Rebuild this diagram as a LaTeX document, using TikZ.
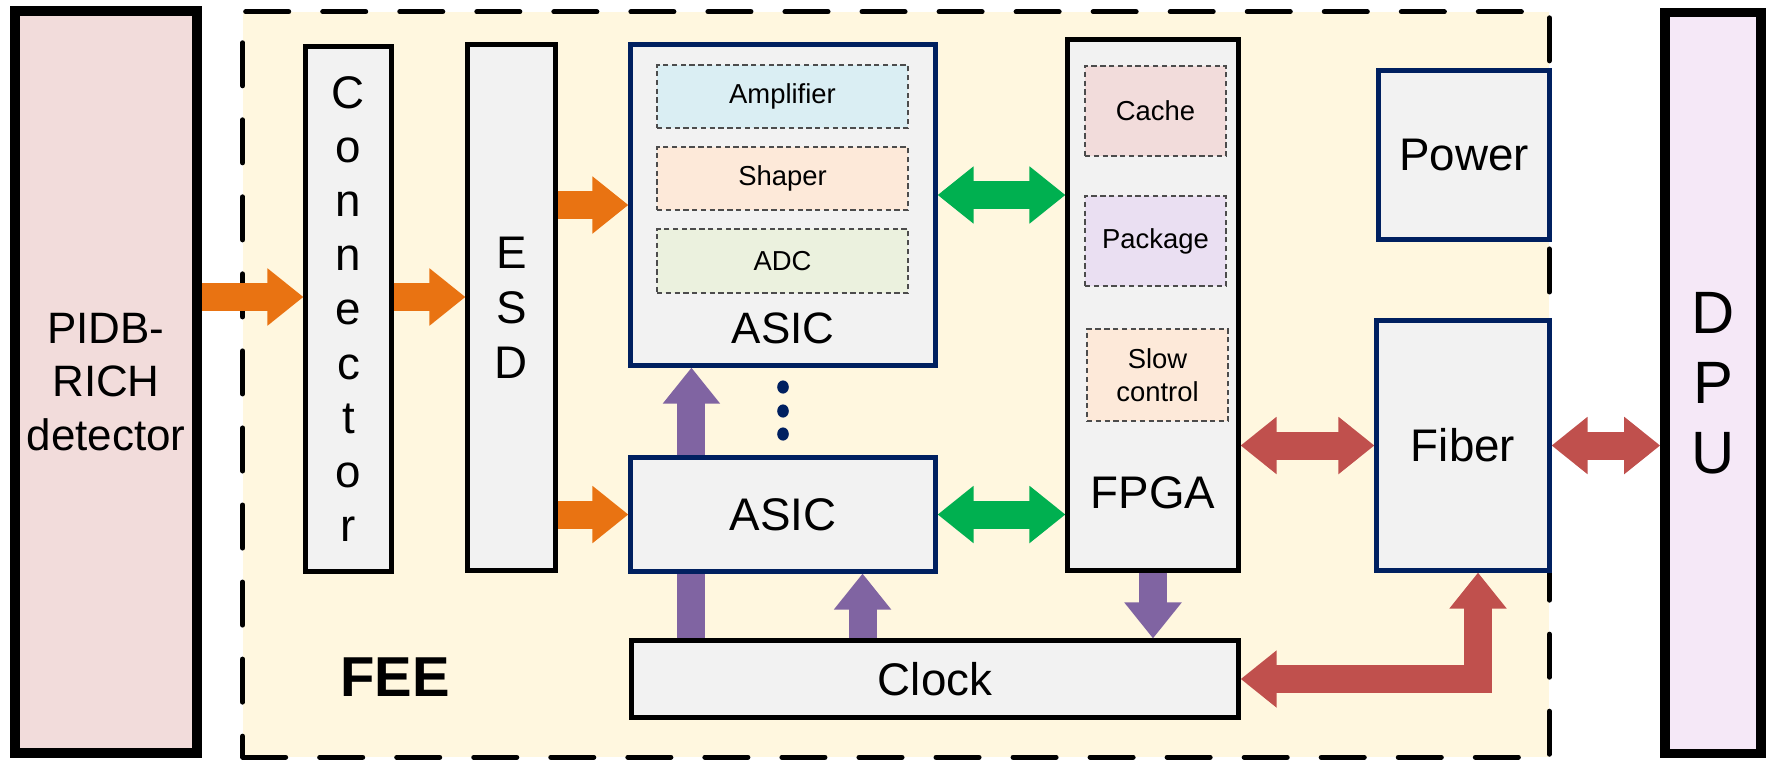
\documentclass[tikz,border=0pt]{standalone}
\usepackage{fontspec}
\setmainfont{Liberation Sans}
\usetikzlibrary{arrows.meta}
\definecolor{feefill}{HTML}{FFF7DF}
\definecolor{pidbfill}{HTML}{F2DCDB}
\definecolor{dpufill}{HTML}{F5E8F7}
\definecolor{boxgray}{HTML}{F2F2F2}
\definecolor{navy}{HTML}{002060}
\definecolor{ampfill}{HTML}{DAEEF3}
\definecolor{shapfill}{HTML}{FDE9D9}
\definecolor{adcfill}{HTML}{EBF1DE}
\definecolor{pkgfill}{HTML}{EADFF2}
\definecolor{orangeC}{HTML}{E97312}
\definecolor{greenC}{HTML}{00B050}
\definecolor{purpleC}{HTML}{8064A2}
\definecolor{redC}{HTML}{C0504D}
\begin{document}
\begin{tikzpicture}[x=0.01cm,y=-0.01cm,
	>={Triangle[length=0.36cm,width=0.55cm]},
	box/.style={draw=black,line width=0.05cm,fill=boxgray,inner sep=0pt},
	navybox/.style={box,draw=navy},
	outer/.style={draw=black,line width=0.095cm,inner sep=0pt,align=center},
	sub/.style={draw=gray!60!black,line width=0.4pt,dash pattern=on 1.5pt off 1pt,inner sep=0pt,
		font=\fontsize{7.8pt}{9.4pt}\selectfont,align=center},
	big/.style={font=\fontsize{13pt}{15.4pt}\selectfont,align=center},
	fat/.style={line width=0.28cm}]
	\useasboundingbox (0,0) rectangle (1772,760);
	\node[draw=black,line width=0.05cm,dash pattern=on 0.43cm off 0.34cm,line cap=round,fill=feefill,
		minimum width=13.06cm,minimum height=7.45cm,inner sep=0pt] (fee) at (896,384.5) {};
	\node[font=\fontsize{16pt}{19pt}\selectfont\bfseries] (feename) at (395,677) {FEE};
	\node[outer,fill=pidbfill,minimum width=1.82cm,minimum height=7.42cm,font=\fontsize{12.5pt}{15.3pt}\selectfont]
		(pidb) at (106,382) {PIDB-\\RICH\\detector};
	\node[outer,fill=dpufill,minimum width=0.96cm,minimum height=7.41cm,font=\fontsize{17pt}{19.9pt}\selectfont]
		(dpu) at (1713,383) {D\\P\\U};
	\node[box,big,minimum width=0.85cm,minimum height=5.24cm] (conn) at (348.5,309) {C\\o\\n\\n\\e\\c\\t\\o\\r};
	\node[box,big,font=\fontsize{13pt}{15.6pt}\selectfont,minimum width=0.87cm,minimum height=5.25cm]
		(esd) at (511.5,307.5) {E\\S\\D};
	\node[navybox,minimum width=3.04cm,minimum height=3.2cm] (asict) at (783,205) {};
	\node[sub,fill=ampfill,minimum width=2.51cm,minimum height=0.63cm] (amp) at (782.5,96.5) {Amplifier};
	\node[sub,fill=shapfill,minimum width=2.51cm,minimum height=0.63cm] (shaper) at (782.5,178.5) {Shaper};
	\node[sub,fill=adcfill,minimum width=2.51cm,minimum height=0.64cm] (adc) at (782.5,261) {ADC};
	\node[big,font=\fontsize{12.5pt}{15pt}\selectfont] (asictname) at (783,328) {ASIC};
	\foreach \y in {387,411,434}
		\fill[navy] (783,\y) ellipse (0.058cm and 0.066cm);
	\node[navybox,big,minimum width=3.04cm,minimum height=1.13cm] (asicb) at (783,514.5) {ASIC};
	\node[box,big,minimum width=6.06cm,minimum height=0.76cm] (clock) at (935,679) {Clock};
	\node[box,minimum width=1.70cm,minimum height=5.30cm] (fpga) at (1153,305) {};
	\node[sub,fill=pidbfill,minimum width=1.41cm,minimum height=0.9cm] (cache) at (1155.5,111) {Cache};
	\node[sub,fill=pkgfill,minimum width=1.41cm,minimum height=0.9cm] (package) at (1155.5,241) {Package};
	\node[sub,fill=shapfill,minimum width=1.41cm,minimum height=0.92cm] (slow) at (1157.5,375) {Slow\\control};
	\node[big] (fpganame) at (1153,493) {FPGA};
	\node[navybox,big,minimum width=1.70cm,minimum height=1.68cm] (power) at (1464,155) {Power};
	\node[navybox,big,minimum width=1.72cm,minimum height=2.49cm] (fiber) at (1463,445.5) {Fiber};
	\draw[orangeC,fat,->] ([yshift=0.12cm]conn.west -| pidb.east) -- ([yshift=0.12cm]conn.west);
	\draw[orangeC,fat,->] ([yshift=0.12cm]conn.east) -- ([yshift=0.12cm]conn.east -| esd.west);
	\draw[orangeC,fat,->] (esd.east |- asict.west) -- (asict.west);
	\draw[orangeC,fat,->] (esd.east |- asicb.west) -- (asicb.west);
	\draw[greenC,fat,<->] ([yshift=0.1cm]asict.east) -- ([yshift=0.1cm]asict.east -| fpga.west);
	\draw[greenC,fat,<->] (asicb.east) -- (asicb.east -| fpga.west);
	\draw[purpleC,fat,->] ([xshift=0.63cm]asicb.north west) -- ([xshift=0.63cm]asict.south west);
	\draw[purpleC,fat] ([xshift=0.63cm]asicb.south west |- clock.north) -- ([xshift=0.63cm]asicb.south west);
	\draw[purpleC,fat,->] ([xshift=2.34cm]asicb.south west |- clock.north) -- ([xshift=2.34cm]asicb.south west);
	\draw[purpleC,fat,->] (fpga.south) -- (fpga.south |- clock.north);
	\draw[redC,fat,<->] (fpga.east |- fiber.west) -- (fiber.west);
	\draw[redC,fat,<->] (fiber.east) -- (fiber.east -| dpu.west);
	\draw[redC,fat,<->,line join=miter] (clock.east) -| ([xshift=0.15cm]fiber.south);
\end{tikzpicture}
\end{document}
